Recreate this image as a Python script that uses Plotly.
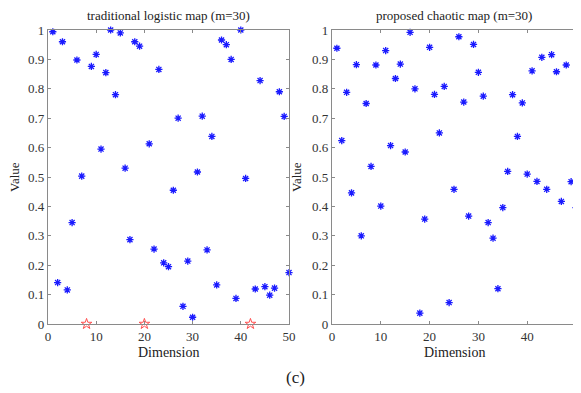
import plotly.graph_objects as go

dims = list(range(1, 51))
logistic_vals = [0.994, 0.141, 0.96, 0.116, 0.345, 0.898, 0.503, 0.0, 0.876, 0.917,
                 0.595, 0.855, 1.0, 0.78, 0.99, 0.53, 0.287, 0.96, 0.945, 0.0,
                 0.613, 0.255, 0.866, 0.208, 0.195, 0.455, 0.70, 0.06, 0.214, 0.023,
                 0.517, 0.707, 0.252, 0.638, 0.133, 0.966, 0.95, 0.9, 0.087, 1.0,
                 0.495, 0.0, 0.119, 0.828, 0.127, 0.098, 0.122, 0.79, 0.706, 0.175]
chaotic_vals = [0.938, 0.624, 0.788, 0.446, 0.882, 0.30, 0.75, 0.536, 0.881, 0.401,
                0.93, 0.607, 0.835, 0.884, 0.585, 0.992, 0.80, 0.037, 0.357, 0.941,
                0.781, 0.65, 0.808, 0.073, 0.458, 0.977, 0.755, 0.367, 0.951, 0.856,
                0.775, 0.345, 0.292, 0.12, 0.396, 0.519, 0.78, 0.638, 0.752, 0.51,
                0.861, 0.485, 0.907, 0.458, 0.916, 0.858, 0.417, 0.881, 0.484, 0.396]
zero_dims = [d for d, v in zip(dims, logistic_vals) if v == 0.0]
zero_vals = [0.0 for _ in zero_dims]

titles = ["traditional logistic map (m=30)", "proposed chaotic map (m=30)"]
x_ticks = [0, 10, 20, 30, 40, 50]
y_ticks = [0, 0.1, 0.2, 0.3, 0.4, 0.5, 0.6, 0.7, 0.8, 0.9, 1]
y_tick_labels = ["0", "0.1", "0.2", "0.3", "0.4", "0.5", "0.6", "0.7", "0.8", "0.9", "1"]

FONT = "Liberation Serif"
OFF = 8  # page body margin
W, H = 581 - OFF, 393 - OFF


def px(x):
    return (x - OFF) / W


def py(y):
    return 1 - (y - OFF) / H


blue_marker = dict(symbol="asterisk-open", size=6, color="#1a1aff",
                   line=dict(color="#1a1aff", width=1.3))

fig = go.Figure()
fig.add_trace(go.Scatter(x=[d for d, v in zip(dims, logistic_vals) if v != 0.0],
                         y=[v for v in logistic_vals if v != 0.0],
                         mode="markers", marker=blue_marker,
                         xaxis="x", yaxis="y", showlegend=False, cliponaxis=False))
fig.add_trace(go.Scatter(x=zero_dims, y=zero_vals, mode="markers",
                         marker=dict(symbol="star-open", size=8, color="#ff5050",
                                     line=dict(color="#ff5050", width=1)),
                         xaxis="x", yaxis="y", showlegend=False, cliponaxis=False))
fig.add_trace(go.Scatter(x=dims, y=chaotic_vals, mode="markers", marker=blue_marker,
                         xaxis="x2", yaxis="y2", showlegend=False, cliponaxis=False))

left_dom = [px(48), px(289)]
right_dom = [px(332), px(576)]
y_dom = [py(324), py(30)]

axis_common = dict(showgrid=False, zeroline=False, showline=True, mirror="ticks",
                   linecolor="#8a8a8a", linewidth=1.2, ticks="inside", ticklen=3,
                   tickcolor="#8a8a8a", automargin=False,
                   tickfont=dict(family=FONT, size=13, color="#333"))

fig.update_layout(
    width=W, height=H, margin=dict(l=0, r=0, t=0, b=0, autoexpand=False),
    paper_bgcolor="white", plot_bgcolor="white",
    font=dict(family=FONT, color="#222"),
    xaxis=dict(domain=left_dom, range=[0, 50], tickvals=x_ticks, anchor="y",
               **axis_common),
    yaxis=dict(domain=y_dom, range=[0, 1], tickvals=y_ticks, ticktext=y_tick_labels,
               anchor="x", **axis_common),
    xaxis2=dict(domain=right_dom, range=[0, 50], tickvals=x_ticks, anchor="y2",
                **axis_common),
    yaxis2=dict(domain=y_dom, range=[0, 1], tickvals=y_ticks, ticktext=y_tick_labels,
                anchor="x2", **axis_common),
)

for dom, t, lx in zip([left_dom, right_dom], titles, [14, 296]):
    cx = (dom[0] + dom[1]) / 2
    fig.add_annotation(x=cx, y=py(15), xref="paper", yref="paper",
                       text=t, showarrow=False, xanchor="center", yanchor="middle",
                       font=dict(family=FONT, size=13, color="#222"))
    fig.add_annotation(x=cx, y=py(352), xref="paper", yref="paper",
                       text="Dimension", showarrow=False, xanchor="center", yanchor="middle",
                       font=dict(family=FONT, size=14, color="#222"))
    fig.add_annotation(x=px(lx), y=(y_dom[0] + y_dom[1]) / 2, xref="paper",
                       yref="paper", text="Value", textangle=-90, showarrow=False,
                       xanchor="center", yanchor="middle", borderpad=0,
                       font=dict(family=FONT, size=13, color="#222"))

fig.add_annotation(x=px(295), y=py(377), xref="paper", yref="paper", text="(c)",
                   showarrow=False, xanchor="center", yanchor="middle",
                   font=dict(family=FONT, size=17, color="#222"))

fig.write_html("out.html")
